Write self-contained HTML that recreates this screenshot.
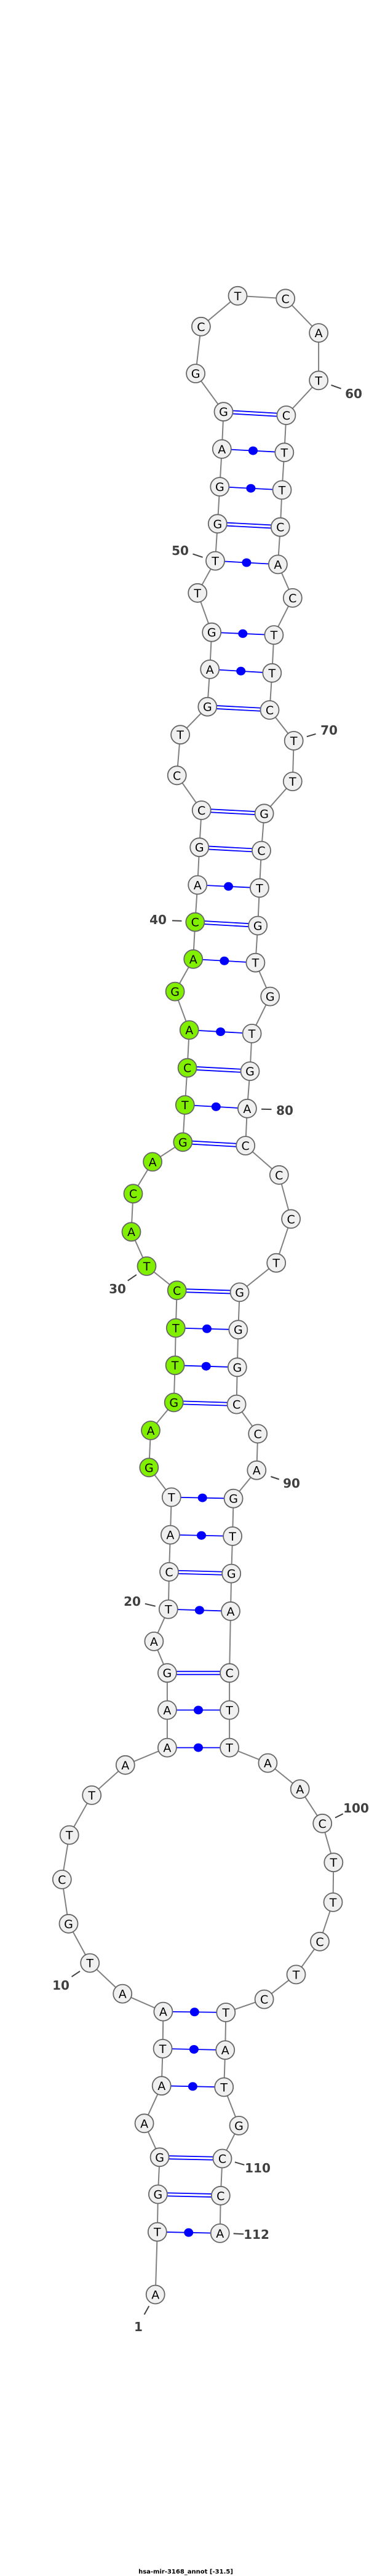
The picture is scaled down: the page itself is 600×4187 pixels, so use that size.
<!DOCTYPE html>
<html><head><meta charset="utf-8"><style>
html,body{margin:0;padding:0;background:#fff;}
svg{display:block;}
.n circle{fill:#f0f0f0;stroke:#666;stroke-width:1.8;}
.g circle{fill:#80f000;}
.n text{font-family:"DejaVu Sans","Liberation Sans",sans-serif;font-size:19px;text-anchor:middle;fill:#000;}
.lb{font-family:"DejaVu Sans","Liberation Sans",sans-serif;font-size:20px;font-weight:bold;fill:#404040;text-anchor:middle;}
</style></head><body>
<svg width="600" height="4187" viewBox="0 0 600 4187" xmlns="http://www.w3.org/2000/svg">
<polyline fill="none" stroke="#808080" stroke-width="2" points="252.7,3729.5 255.8,3627.7 256.9,3566.5 259.6,3506.3 234.6,3451.3 262.7,3390.2 264.6,3329.9 265.4,3269.6 199.2,3240.6 146.2,3190.6 111.5,3126.8 100.8,3054.9 112.7,2982.6 149.2,2917.9 203.8,2868.8 271.9,2840.6 271.9,2779.5 271.9,2719.2 250.4,2667.9 273.8,2615.6 275,2554.9 276.9,2494.6 278.8,2433.5 242.3,2385.3 245,2325 282.7,2279.5 284.6,2219.2 285.8,2158.5 287.7,2097.3 238.5,2058 213.5,2002.2 216.5,1940.2 248.1,1888.4 297.3,1856.3 300.8,1796 304.6,1735.7 307.7,1674.1 284.6,1611.6 314.2,1558.9 317.3,1498.7 321.2,1438.4 324.2,1377.2 327.7,1317 287.7,1260.3 293.1,1194.2 337.3,1148.7 341.2,1087.9 344.2,1027.7 321.2,963.8 350,911.6 353.8,851.3 357.3,791.1 360.8,729.9 363.5,669.2 318.1,607.1 326.9,530.8 386.5,480.8 464.2,485.3 518.1,541.1 518.1,618.3 465.4,675 462.3,735.3 458.5,796.4 455.8,856.7 451.9,917.4 475.8,971.9 445.4,1032.1 442.3,1093.8 438.5,1154 477.7,1204 475.8,1270.1 429.6,1322.3 425,1382.6 421.9,1443.3 419.2,1504.5 415.4,1564.7 439.2,1619.6 409.6,1679.9 406.5,1741.1 401.9,1801.8 399.2,1862.1 453.8,1909.8 473.1,1981.3 449.2,2052.7 389.6,2100.4 387.3,2161.2 385.8,2222.3 384.6,2282.6 419.2,2330.4 417.3,2389.7 379.6,2435.7 378.1,2496.9 376.2,2557.6 375,2618.8 373.1,2719.2 373.1,2779.5 373.1,2840.6 435.4,2865.6 487.7,2908 524.2,2963.8 542.3,3027.2 541.5,3091.9 520,3155.8 481.5,3209.4 429.6,3249.6 367.3,3271 366.2,3332.1 364.2,3392.4 388.5,3454.9 361.5,3508.5 358.8,3568.8 357.7,3629.9"/>
<g stroke="#0000ff" stroke-width="1.8" fill="none">
<path d="M255.8,3627.7L357.7,3629.9M265.4,3269.6L367.3,3271M264.6,3329.9L366.2,3332.1M262.7,3390.2L364.2,3392.4M271.9,2840.6L373.1,2840.6M271.9,2779.5L373.1,2779.5M273.8,2615.6L375,2618.8M276.9,2494.6L378.1,2496.9M278.8,2433.5L379.6,2435.7M284.6,2219.2L385.8,2222.3M285.8,2158.5L387.3,2161.2M300.8,1796L401.9,1801.8M307.7,1674.1L409.6,1679.9M314.2,1558.9L415.4,1564.7M321.2,1438.4L421.9,1443.3M341.2,1087.9L442.3,1093.8M344.2,1027.7L445.4,1032.1M350,911.6L451.9,917.4M357.3,791.1L458.5,796.4M360.8,729.9L462.3,735.3"/>
<path d="M256.9,3564L358.8,3566.3M256.9,3569L358.8,3571.3M259.6,3503.8L361.5,3506M259.6,3508.8L361.5,3511M271.9,2716.7L373.1,2716.7M271.9,2721.7L373.1,2721.7M275,2552.4L376.2,2555.1M275,2557.4L376.2,2560.1M282.7,2277L384.6,2280.1M282.7,2282L384.6,2285.1M287.7,2094.8L389.6,2097.9M287.7,2099.8L389.6,2102.9M297.3,1853.8L399.2,1859.6M297.3,1858.8L399.2,1864.6M304.6,1733.2L406.5,1738.6M304.6,1738.2L406.5,1743.6M317.3,1496.2L419.2,1502M317.3,1501.2L419.2,1507M324.2,1374.7L425,1380.1M324.2,1379.7L425,1385.1M327.7,1314.5L429.6,1319.8M327.7,1319.5L429.6,1324.8M337.3,1146.2L438.5,1151.5M337.3,1151.2L438.5,1156.5M353.8,848.8L455.8,854.2M353.8,853.8L455.8,859.2M363.5,666.7L465.4,672.5M363.5,671.7L465.4,677.5"/>
</g>
<g fill="#0000ff">
<ellipse cx="306.7" cy="3628.8" rx="7.5" ry="7"/><ellipse cx="313.4" cy="3391.3" rx="7.5" ry="7"/><ellipse cx="315.4" cy="3331" rx="7.5" ry="7"/><ellipse cx="316.3" cy="3270.3" rx="7.5" ry="7"/><ellipse cx="322.5" cy="2840.6" rx="7.5" ry="7"/><ellipse cx="322.5" cy="2779.5" rx="7.5" ry="7"/><ellipse cx="324.4" cy="2617.2" rx="7.5" ry="7"/><ellipse cx="327.5" cy="2495.7" rx="7.5" ry="7"/><ellipse cx="329.2" cy="2434.6" rx="7.5" ry="7"/><ellipse cx="335.2" cy="2220.7" rx="7.5" ry="7"/><ellipse cx="336.5" cy="2159.8" rx="7.5" ry="7"/><ellipse cx="351.3" cy="1798.9" rx="7.5" ry="7"/><ellipse cx="358.6" cy="1677" rx="7.5" ry="7"/><ellipse cx="364.8" cy="1561.8" rx="7.5" ry="7"/><ellipse cx="371.5" cy="1440.8" rx="7.5" ry="7"/><ellipse cx="391.7" cy="1090.8" rx="7.5" ry="7"/><ellipse cx="394.8" cy="1029.9" rx="7.5" ry="7"/><ellipse cx="400.9" cy="914.5" rx="7.5" ry="7"/><ellipse cx="407.9" cy="793.7" rx="7.5" ry="7"/><ellipse cx="411.5" cy="732.6" rx="7.5" ry="7"/>
</g>
<g stroke="#404040" stroke-width="2">
<path d="M538.5,625.9L554.6,631.7M313.5,900.4L329.6,905.8M498.8,1197.3L513.5,1192.9M280,1496.4L295.4,1496.9M425,1802.7L441.5,1803.1M207.7,2081.7L221.9,2071.9M440.4,2400L453.8,2404.5M235.8,2606.7L252.7,2610.7M545,2954.5L557.7,2948.2M116.5,3212.9L130,3204M381.9,3514.3L397.3,3518.8M379.6,3630.4L396.2,3631.3M234.6,3762L242.3,3748.2"/>
</g>
<g class="lb">
<text x="575" y="647">60</text>
<text x="293" y="902">50</text>
<text x="535" y="1194">70</text>
<text x="257" y="1502">40</text>
<text x="463" y="1812">80</text>
<text x="191" y="2102">30</text>
<text x="474" y="2418">90</text>
<text x="215" y="2610">20</text>
<text x="579" y="2946">100</text>
<text x="99" y="3234">10</text>
<text x="419" y="3531">110</text>
<text x="417" y="3639">112</text>
<text x="225" y="3789">1</text>
</g>
<g class="n">
<g transform="translate(252.7,3729.5)"><circle r="15"/><text y="7">A</text></g>
<g transform="translate(255.8,3627.7)"><circle r="15"/><text y="7">T</text></g>
<g transform="translate(256.9,3566.5)"><circle r="15"/><text y="7">G</text></g>
<g transform="translate(259.6,3506.3)"><circle r="15"/><text y="7">G</text></g>
<g transform="translate(234.6,3451.3)"><circle r="15"/><text y="7">A</text></g>
<g transform="translate(262.7,3390.2)"><circle r="15"/><text y="7">A</text></g>
<g transform="translate(264.6,3329.9)"><circle r="15"/><text y="7">T</text></g>
<g transform="translate(265.4,3269.6)"><circle r="15"/><text y="7">A</text></g>
<g transform="translate(199.2,3240.6)"><circle r="15"/><text y="7">A</text></g>
<g transform="translate(146.2,3190.6)"><circle r="15"/><text y="7">T</text></g>
<g transform="translate(111.5,3126.8)"><circle r="15"/><text y="7">G</text></g>
<g transform="translate(100.8,3054.9)"><circle r="15"/><text y="7">C</text></g>
<g transform="translate(112.7,2982.6)"><circle r="15"/><text y="7">T</text></g>
<g transform="translate(149.2,2917.9)"><circle r="15"/><text y="7">T</text></g>
<g transform="translate(203.8,2868.8)"><circle r="15"/><text y="7">A</text></g>
<g transform="translate(271.9,2840.6)"><circle r="15"/><text y="7">A</text></g>
<g transform="translate(271.9,2779.5)"><circle r="15"/><text y="7">A</text></g>
<g transform="translate(271.9,2719.2)"><circle r="15"/><text y="7">G</text></g>
<g transform="translate(250.4,2667.9)"><circle r="15"/><text y="7">A</text></g>
<g transform="translate(273.8,2615.6)"><circle r="15"/><text y="7">T</text></g>
<g transform="translate(275,2554.9)"><circle r="15"/><text y="7">C</text></g>
<g transform="translate(276.9,2494.6)"><circle r="15"/><text y="7">A</text></g>
<g transform="translate(278.8,2433.5)"><circle r="15"/><text y="7">T</text></g>
<g class="g" transform="translate(242.3,2385.3)"><circle r="15"/><text y="7">G</text></g>
<g class="g" transform="translate(245,2325)"><circle r="15"/><text y="7">A</text></g>
<g class="g" transform="translate(282.7,2279.5)"><circle r="15"/><text y="7">G</text></g>
<g class="g" transform="translate(284.6,2219.2)"><circle r="15"/><text y="7">T</text></g>
<g class="g" transform="translate(285.8,2158.5)"><circle r="15"/><text y="7">T</text></g>
<g class="g" transform="translate(287.7,2097.3)"><circle r="15"/><text y="7">C</text></g>
<g class="g" transform="translate(238.5,2058)"><circle r="15"/><text y="7">T</text></g>
<g class="g" transform="translate(213.5,2002.2)"><circle r="15"/><text y="7">A</text></g>
<g class="g" transform="translate(216.5,1940.2)"><circle r="15"/><text y="7">C</text></g>
<g class="g" transform="translate(248.1,1888.4)"><circle r="15"/><text y="7">A</text></g>
<g class="g" transform="translate(297.3,1856.3)"><circle r="15"/><text y="7">G</text></g>
<g class="g" transform="translate(300.8,1796)"><circle r="15"/><text y="7">T</text></g>
<g class="g" transform="translate(304.6,1735.7)"><circle r="15"/><text y="7">C</text></g>
<g class="g" transform="translate(307.7,1674.1)"><circle r="15"/><text y="7">A</text></g>
<g class="g" transform="translate(284.6,1611.6)"><circle r="15"/><text y="7">G</text></g>
<g class="g" transform="translate(314.2,1558.9)"><circle r="15"/><text y="7">A</text></g>
<g class="g" transform="translate(317.3,1498.7)"><circle r="15"/><text y="7">C</text></g>
<g transform="translate(321.2,1438.4)"><circle r="15"/><text y="7">A</text></g>
<g transform="translate(324.2,1377.2)"><circle r="15"/><text y="7">G</text></g>
<g transform="translate(327.7,1317)"><circle r="15"/><text y="7">C</text></g>
<g transform="translate(287.7,1260.3)"><circle r="15"/><text y="7">C</text></g>
<g transform="translate(293.1,1194.2)"><circle r="15"/><text y="7">T</text></g>
<g transform="translate(337.3,1148.7)"><circle r="15"/><text y="7">G</text></g>
<g transform="translate(341.2,1087.9)"><circle r="15"/><text y="7">A</text></g>
<g transform="translate(344.2,1027.7)"><circle r="15"/><text y="7">G</text></g>
<g transform="translate(321.2,963.8)"><circle r="15"/><text y="7">T</text></g>
<g transform="translate(350,911.6)"><circle r="15"/><text y="7">T</text></g>
<g transform="translate(353.8,851.3)"><circle r="15"/><text y="7">G</text></g>
<g transform="translate(357.3,791.1)"><circle r="15"/><text y="7">G</text></g>
<g transform="translate(360.8,729.9)"><circle r="15"/><text y="7">A</text></g>
<g transform="translate(363.5,669.2)"><circle r="15"/><text y="7">G</text></g>
<g transform="translate(318.1,607.1)"><circle r="15"/><text y="7">G</text></g>
<g transform="translate(326.9,530.8)"><circle r="15"/><text y="7">C</text></g>
<g transform="translate(386.5,480.8)"><circle r="15"/><text y="7">T</text></g>
<g transform="translate(464.2,485.3)"><circle r="15"/><text y="7">C</text></g>
<g transform="translate(518.1,541.1)"><circle r="15"/><text y="7">A</text></g>
<g transform="translate(518.1,618.3)"><circle r="15"/><text y="7">T</text></g>
<g transform="translate(465.4,675)"><circle r="15"/><text y="7">C</text></g>
<g transform="translate(462.3,735.3)"><circle r="15"/><text y="7">T</text></g>
<g transform="translate(458.5,796.4)"><circle r="15"/><text y="7">T</text></g>
<g transform="translate(455.8,856.7)"><circle r="15"/><text y="7">C</text></g>
<g transform="translate(451.9,917.4)"><circle r="15"/><text y="7">A</text></g>
<g transform="translate(475.8,971.9)"><circle r="15"/><text y="7">C</text></g>
<g transform="translate(445.4,1032.1)"><circle r="15"/><text y="7">T</text></g>
<g transform="translate(442.3,1093.8)"><circle r="15"/><text y="7">T</text></g>
<g transform="translate(438.5,1154)"><circle r="15"/><text y="7">C</text></g>
<g transform="translate(477.7,1204)"><circle r="15"/><text y="7">T</text></g>
<g transform="translate(475.8,1270.1)"><circle r="15"/><text y="7">T</text></g>
<g transform="translate(429.6,1322.3)"><circle r="15"/><text y="7">G</text></g>
<g transform="translate(425,1382.6)"><circle r="15"/><text y="7">C</text></g>
<g transform="translate(421.9,1443.3)"><circle r="15"/><text y="7">T</text></g>
<g transform="translate(419.2,1504.5)"><circle r="15"/><text y="7">G</text></g>
<g transform="translate(415.4,1564.7)"><circle r="15"/><text y="7">T</text></g>
<g transform="translate(439.2,1619.6)"><circle r="15"/><text y="7">G</text></g>
<g transform="translate(409.6,1679.9)"><circle r="15"/><text y="7">T</text></g>
<g transform="translate(406.5,1741.1)"><circle r="15"/><text y="7">G</text></g>
<g transform="translate(401.9,1801.8)"><circle r="15"/><text y="7">A</text></g>
<g transform="translate(399.2,1862.1)"><circle r="15"/><text y="7">C</text></g>
<g transform="translate(453.8,1909.8)"><circle r="15"/><text y="7">C</text></g>
<g transform="translate(473.1,1981.3)"><circle r="15"/><text y="7">C</text></g>
<g transform="translate(449.2,2052.7)"><circle r="15"/><text y="7">T</text></g>
<g transform="translate(389.6,2100.4)"><circle r="15"/><text y="7">G</text></g>
<g transform="translate(387.3,2161.2)"><circle r="15"/><text y="7">G</text></g>
<g transform="translate(385.8,2222.3)"><circle r="15"/><text y="7">G</text></g>
<g transform="translate(384.6,2282.6)"><circle r="15"/><text y="7">C</text></g>
<g transform="translate(419.2,2330.4)"><circle r="15"/><text y="7">C</text></g>
<g transform="translate(417.3,2389.7)"><circle r="15"/><text y="7">A</text></g>
<g transform="translate(379.6,2435.7)"><circle r="15"/><text y="7">G</text></g>
<g transform="translate(378.1,2496.9)"><circle r="15"/><text y="7">T</text></g>
<g transform="translate(376.2,2557.6)"><circle r="15"/><text y="7">G</text></g>
<g transform="translate(375,2618.8)"><circle r="15"/><text y="7">A</text></g>
<g transform="translate(373.1,2719.2)"><circle r="15"/><text y="7">C</text></g>
<g transform="translate(373.1,2779.5)"><circle r="15"/><text y="7">T</text></g>
<g transform="translate(373.1,2840.6)"><circle r="15"/><text y="7">T</text></g>
<g transform="translate(435.4,2865.6)"><circle r="15"/><text y="7">A</text></g>
<g transform="translate(487.7,2908)"><circle r="15"/><text y="7">A</text></g>
<g transform="translate(524.2,2963.8)"><circle r="15"/><text y="7">C</text></g>
<g transform="translate(542.3,3027.2)"><circle r="15"/><text y="7">T</text></g>
<g transform="translate(541.5,3091.9)"><circle r="15"/><text y="7">T</text></g>
<g transform="translate(520,3155.8)"><circle r="15"/><text y="7">C</text></g>
<g transform="translate(481.5,3209.4)"><circle r="15"/><text y="7">T</text></g>
<g transform="translate(429.6,3249.6)"><circle r="15"/><text y="7">C</text></g>
<g transform="translate(367.3,3271)"><circle r="15"/><text y="7">T</text></g>
<g transform="translate(366.2,3332.1)"><circle r="15"/><text y="7">A</text></g>
<g transform="translate(364.2,3392.4)"><circle r="15"/><text y="7">T</text></g>
<g transform="translate(388.5,3454.9)"><circle r="15"/><text y="7">G</text></g>
<g transform="translate(361.5,3508.5)"><circle r="15"/><text y="7">C</text></g>
<g transform="translate(358.8,3568.8)"><circle r="15"/><text y="7">C</text></g>
<g transform="translate(357.7,3629.9)"><circle r="15"/><text y="7">A</text></g>
</g>
<text x="302" y="4183" text-anchor="middle" font-family="DejaVu Sans, Liberation Sans, sans-serif" font-size="10" font-weight="bold" fill="#000">hsa-mir-3168_annot [-31.5]</text>
</svg>
</body></html>
